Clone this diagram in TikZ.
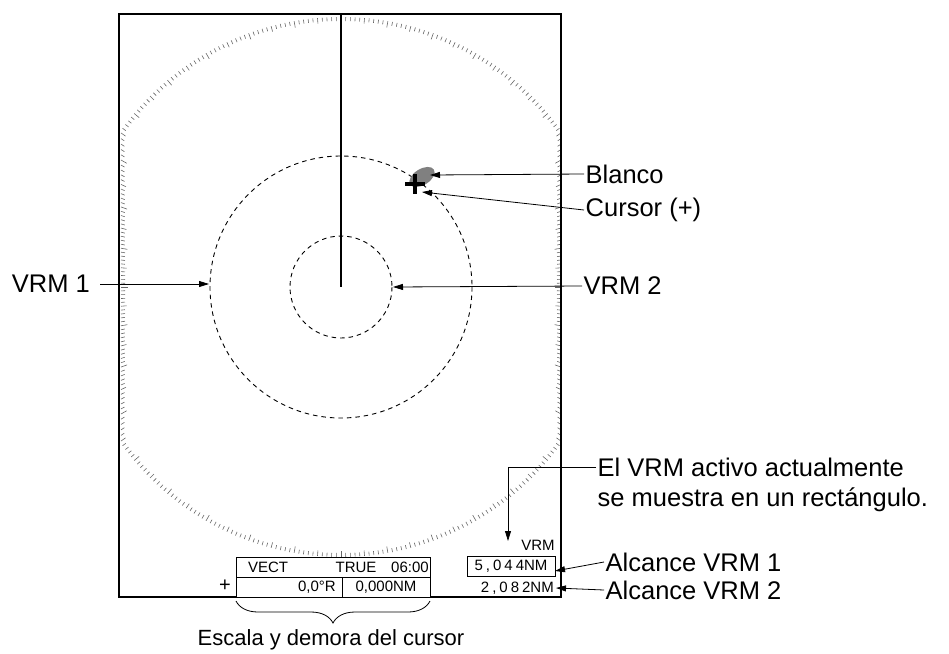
\documentclass[tikz,border=0pt]{standalone}
\usepackage{fontspec}
\setmainfont{Liberation Sans}
\usetikzlibrary{arrows.meta,positioning,calc,decorations.pathreplacing}

\begin{document}
\begin{tikzpicture}[x=1pt, y=-1pt,
  label/.style={font=\fontsize{25.5}{30}\selectfont, inner sep=1.5pt},
  small/.style={font=\fontsize{15}{17}\selectfont, inner sep=0pt},
  arrow/.style={-{Triangle[length=10pt,width=6pt]}, line width=0.8pt},
  vrmring/.style={dash pattern=on 4.5pt off 4pt, line width=0.9pt},
  tick/.style={draw=black!60, line width=0.6pt}
]
\useasboundingbox (0,0) rectangle (949,653);

% radar screen
\coordinate (own) at (341,287);
\begin{scope}
  \clip (119,14) rectangle (561,597);
  \foreach \a in {0,...,359}{
    \pgfmathsetmacro{\s}{max(abs(sin(\a)),0.1)}
    \pgfmathsetmacro{\r}{min(270,220/\s)}
    \pgfmathsetmacro{\l}{ifthenelse(mod(\a,10)==0,6.5,ifthenelse(mod(\a,5)==0,5.5,4))}
    \draw[tick] ($(own)+(\a-90:\r)$) -- ($(own)+(\a-90:\r-\l)$);
  }
\end{scope}
\draw[line width=1.2pt] (119,14) rectangle (561,597);
\draw[line width=1.3pt] (341,14) -- (own);
\draw[vrmring] (own) circle[radius=131];
\draw[vrmring] (own) circle[radius=51];

% target and cursor
\coordinate (target) at (422,177);
\fill[black!50, rotate around={32:(target)}] (target) ellipse[x radius=14, y radius=8];
\draw[line width=3.6pt] (405,184) -- (425,184) (415,174) -- (415,194);

% data boxes
\node[small] (vrmhdr) at (538,545) {VRM};
\node[small, draw, line width=0.8pt, minimum width=88, minimum height=20] (rangeA) at (511,566)
  {{\addfontfeatures{LetterSpace=20}5,044}NM};
\node[small, anchor=east] (rangeB) at (554,588) {{\addfontfeatures{LetterSpace=20}2,082}NM};

\draw[line width=0.8pt, fill=white] (236,557) rectangle (430,597);
\draw[line width=0.8pt] (236,577) -- (430,577) (342,577) -- (342,597);
\node[small] (vect) at (268,567) {VECT};
\node[small] (true) at (356,567) {TRUE};
\node[small] (time) at (410,567) {06:00};
\node[small, anchor=east] (brg) at (336,587) {0,0°R};
\node[small] (rng) at (386,587) {0,000NM};
\node[small, font=\fontsize{20}{22}\selectfont] (plus) at (225,586) {+};
\draw[line width=0.8pt, decorate, decoration={brace, mirror, amplitude=22pt}] (236,601) -- (430,601);

% callouts
\node[label, anchor=west] (blanco) at (584,174) {Blanco};
\node[label, anchor=west] (cursor) at (584,210) {Cursor (+)};
\node[label, anchor=east, inner xsep=10pt] (vrmone) at (100,284) {VRM 1};
\node[label, anchor=west] (vrmtwo) at (582,286) {VRM 2};
\node[label, anchor=west] (activo) at (596,467) {El VRM activo actualmente};
\node[label, anchor=west] (muestra) at (596,500) {se muestra en un rectángulo.};
\node[label, anchor=west] (alcA) at (604,562) {Alcance VRM 1};
\node[label, anchor=west] (alcB) at (604,590) {Alcance VRM 2};
\node[label, font=\fontsize{22}{26}\selectfont] (escala) at (331,640) {Escala y demora del cursor};

\coordinate (blancoTip) at (430,175);
\coordinate (cursorTip) at (422,192);
\coordinate (vrmoneTip) at (209,284);
\coordinate (vrmtwoTip) at (393,287);
\coordinate (activoTip) at (508,541);
\coordinate (alcATip) at (555,571);
\coordinate (alcBTip) at (556,588);

\draw[arrow] (blanco.west) -- (blancoTip);
\draw[arrow] (cursor.west) -- (cursorTip);
\draw[arrow] (vrmone.east) -- (vrmoneTip);
\draw[arrow] (vrmtwo.west) -- (vrmtwoTip);
\draw[arrow] (activo.west) -| (activoTip);
\draw[arrow] (alcA.west) -- (alcATip);
\draw[arrow] (alcB.west) -- (alcBTip);
\end{tikzpicture}
\end{document}
